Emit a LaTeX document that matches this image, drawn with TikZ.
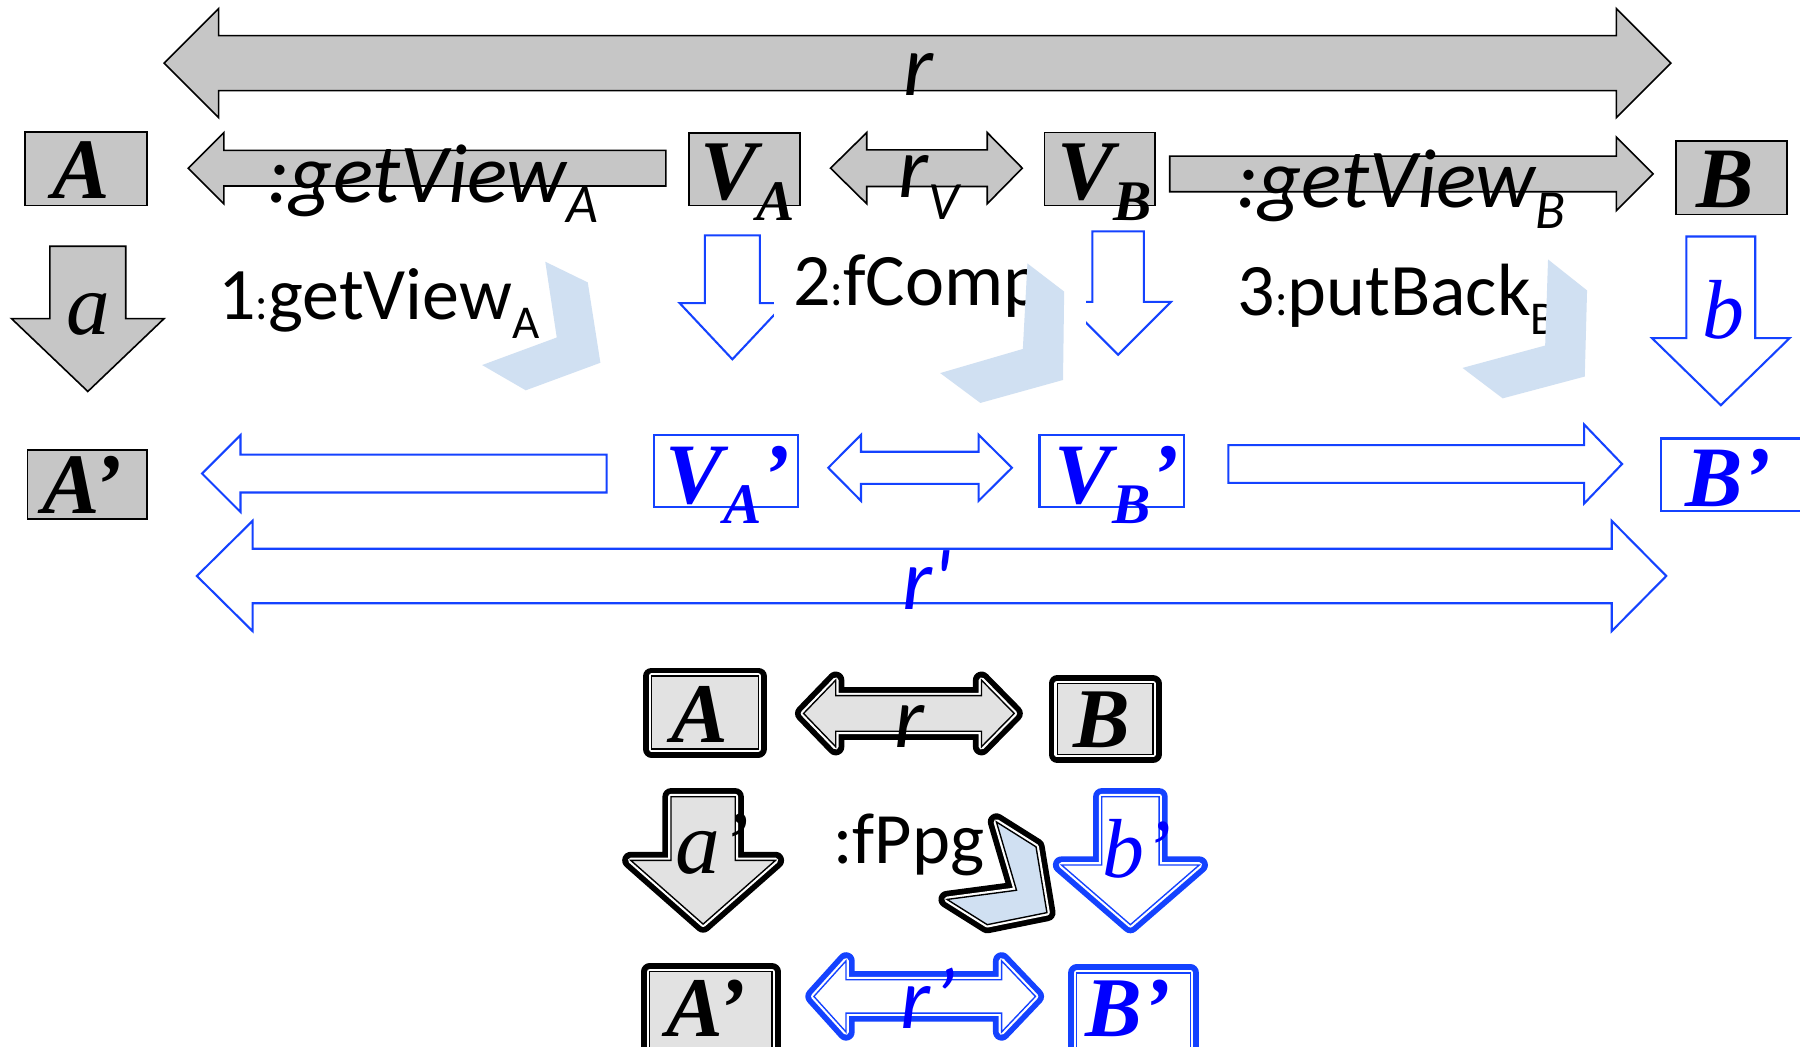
\documentclass[tikz,border=0pt]{standalone}
\usepackage{fontspec}
\setmainfont{Liberation Serif}
\newfontfamily\calf{Carlito}
\newfontfamily\calft[Ligatures=TeXOff]{Carlito}
\newfontfamily\tmsf{Liberation Serif}
\newcommand\fs[1]{\fontsize{#1}{#1}\selectfont}
\definecolor{gry}{RGB}{198,198,198}
\definecolor{lgray}{RGB}{226,226,226}
\definecolor{pale}{RGB}{208,224,242}
\definecolor{blueL}{RGB}{20,66,255}
\definecolor{blueT}{RGB}{0,0,255}
% shapes: style, then geometry
\newcommand\HArr[7]{\path[#1] (#2,#5) -- (#3,{#5-#7}) -- (#3,{#5-#6}) -- (#4,{#5-#6}) -- (#4,{#5+#6}) -- (#3,{#5+#6}) -- (#3,{#5+#7}) -- cycle;}
\newcommand\DArr[8]{\path[#1] (#2,#6) -- (#3,{#6-#8}) -- (#3,{#6-#7}) -- (#4,{#6-#7}) -- (#4,{#6-#8}) -- (#5,#6) -- (#4,{#6+#8}) -- (#4,{#6+#7}) -- (#3,{#6+#7}) -- (#3,{#6+#8}) -- cycle;}
\newcommand\VArr[7]{\path[#1] ({#2-#6},#3) -- ({#2+#6},#3) -- ({#2+#6},#4) -- ({#2+#7},#4) -- (#2,#5) -- ({#2-#7},#4) -- ({#2-#6},#4) -- cycle;}
\newcommand\RBox[5]{\path[#1] (#2,#3) rectangle (#4,#5);}
\newcommand\ChevP[7]{\path[#1] #2 -- #3 -- #4 -- #5 -- #6 -- #7 -- cycle;}
\newcommand\Fancy[4]{#3{fo=#1}#4#3{fw}#4#3{fill=#2}#4#3{fi=#1}#4}
\begin{document}
\begin{tikzpicture}[x=1pt,y=-1pt,
  graysh/.style={fill=gry,draw=black,line width=1.4pt},
  bluesh/.style={fill=white,draw=blueL,line width=1.8pt},
  palesh/.style={fill=pale},
  fo/.style={draw=#1,line width=15pt,line join=round},
  fw/.style={draw=white,line width=5pt,line join=round},
  fi/.style={draw=#1,line width=1.2pt},
  lbl/.style={anchor=base west,inner sep=0pt,outer sep=0pt},
  tbi/.style={lbl,font={\tmsf\bfseries\itshape\fs{#1}}},
  ti/.style={lbl,font={\tmsf\itshape\fs{#1}}},
  ci/.style={lbl,font={\calf\itshape\fs{#1}}},
  cu/.style={lbl,font={\calf\fs{#1}}}]
\fill[white] (0,0) rectangle (1568,912);
\useasboundingbox (0,0) rectangle (1568,912);
\clip (0,0) rectangle (1568,912);
% ---- row 1
\DArr{graysh}{143}{190.5}{1408}{1455.5}{55}{24}{47.5}
\node[ci=76] (lr) at (787,83.5) {r};
% ---- row 2
\RBox{graysh}{22}{115}{128}{179}
\HArr{graysh}{164}{195}{580}{146.5}{15.5}{31}
\RBox{graysh}{600}{116}{697}{179}
\DArr{graysh}{723.5}{755}{860}{890.5}{146.5}{16}{31}
\RBox{graysh}{910}{115.5}{1006}{179}
\HArr{graysh}{1440}{1408}{1019}{151.5}{15.5}{32}
\RBox{graysh}{1460}{123}{1556.5}{187}
\node[tbi=75] (lA) at (46,173) {A};
\node[ci=73] (lgvA) at (233,176) {:getView\raisebox{-18pt}{\fs{48}A}};
\node[tbi=74] (lVA) at (610,174) {V\raisebox{-18pt}{\fs{50}A}};
\node[ci=76] (lrV) at (783,172) {r\raisebox{-19pt}{\fs{47}V}};
\node[tbi=74] (lVB) at (921,174) {V\raisebox{-18pt}{\fs{50}B}};
\node[ci=73] (lgvB) at (1077,181) {:getView\raisebox{-18pt}{\fs{48}B}};
\node[tbi=75] (lB) at (1478,181) {B};
% ---- row 3
\VArr{graysh}{76.5}{214.5}{277.5}{341}{33}{66.5}
\VArr{bluesh}{638}{205}{264}{313}{24}{46}
\VArr{bluesh}{974}{201.5}{263}{309}{22.5}{46}
\VArr{bluesh}{1499}{206}{294.5}{353}{30}{60}
\node[fill=white,inner sep=0pt,minimum width=272pt,minimum height=100pt,anchor=north west] (fcbg) at (674,200) {};
\node[ti=76] (la) at (58,291) {a};
\node[cu=64.5] (l1) at (190,278) {1{\fs{41}:}getView\raisebox{-17pt}{\fs{41}A}};
\node[cu=64.5] (l2) at (691,266) {2{\fs{41}:}fComp};
\node[cu=64.5] (l3) at (1078,275) {3{\fs{41}:}putBack\raisebox{-16.5pt}{\fs{41}B}};
\node[ti=73,text=blueT] (lb) at (1483,295) {b};
\path[palesh] (475,228) -- (512,246) -- (523,316) -- (458,340) -- (420,318) -- (485,294) -- cycle;
\path[palesh] (895,229.5) -- (927,254) -- (926,331) -- (854,351) -- (819,325) -- (891,304) -- cycle;
\path[palesh] (1348.5,226) -- (1382.5,253) -- (1380.5,328) -- (1309,347) -- (1274,320.5) -- (1346,301) -- cycle;
% ---- row 4
\RBox{graysh}{24}{392}{128}{452}
\HArr{bluesh}{176}{209.5}{528.5}{412.5}{16.5}{33.5}
\RBox{bluesh}{570}{379}{695}{442}
\DArr{bluesh}{721.5}{750}{852.5}{881.5}{407.5}{14}{28.75}
\RBox{bluesh}{905.5}{379}{1031.5}{442}
\HArr{bluesh}{1413}{1380}{1070}{404.2}{16.5}{34.4}
\RBox{bluesh}{1446.5}{382}{1600}{445}
\node[tbi=75] (lA2) at (37,447) {A’};
\node[tbi=75,text=blueT] (lVA2) at (580,439) {V\raisebox{-17pt}{\fs{50}A}’};
\node[tbi=75,text=blueT] (lVB2) at (919,439) {V\raisebox{-17pt}{\fs{50}B}’};
\node[tbi=75,text=blueT] (lB2) at (1468,441) {B’};
% ---- row 5
\DArr{bluesh}{171.5}{220}{1404}{1451.5}{501.75}{23.75}{48}
\node[lbl,font={\calft\itshape\fs{76}},text=blueT] (lr2) at (786,531) {r'};
% ---- bottom group
\Fancy{black}{lgray}{\RBox}{{567.5}{589}{660.5}{652.5}}
\Fancy{black}{lgray}{\DArr}{{700}{728}{855}{883.5}{621.5}{15.5}{29}}
\Fancy{black}{lgray}{\RBox}{{921}{595.5}{1004.3}{657.3}}
\Fancy{black}{lgray}{\VArr}{{612.5}{694}{749.5}{805}{28}{63}}
\Fancy{black}{pale}{\ChevP}{{(868,716)}{(902.5,737.7)}{(912,795)}{(860,805.5)}{(825,783.5)}{(885.5,775.5)}}
\Fancy{blueL}{white}{\VArr}{{984.7}{694}{753.5}{805.5}{25}{60}}
\Fancy{black}{lgray}{\RBox}{{566}{846.5}{672.5}{930}}
\Fancy{blueL}{white}{\DArr}{{709}{737}{872.5}{902}{868}{14.5}{31}}
\Fancy{blueL}{white}{\RBox}{{938}{847.5}{1037}{930}}
\node[tbi=74] (bA) at (585,647) {A};
\node[ci=76] (br) at (779,651) {r};
\node[tbi=74] (bB) at (935,651) {B};
\node[ti=78] (ba) at (588,761) {a’};
\node[cu=63] (bf) at (726,752) {:fPpg};
\node[ti=73,text=blueT] (bb) at (960,764) {b’};
\node[tbi=74] (bA2) at (581,903) {A’};
\node[ci=76,text=blueT] (br2) at (784,896) {r’};
\node[tbi=74,text=blueT] (bB2) at (946,903) {B’};
\end{tikzpicture}
\end{document}
